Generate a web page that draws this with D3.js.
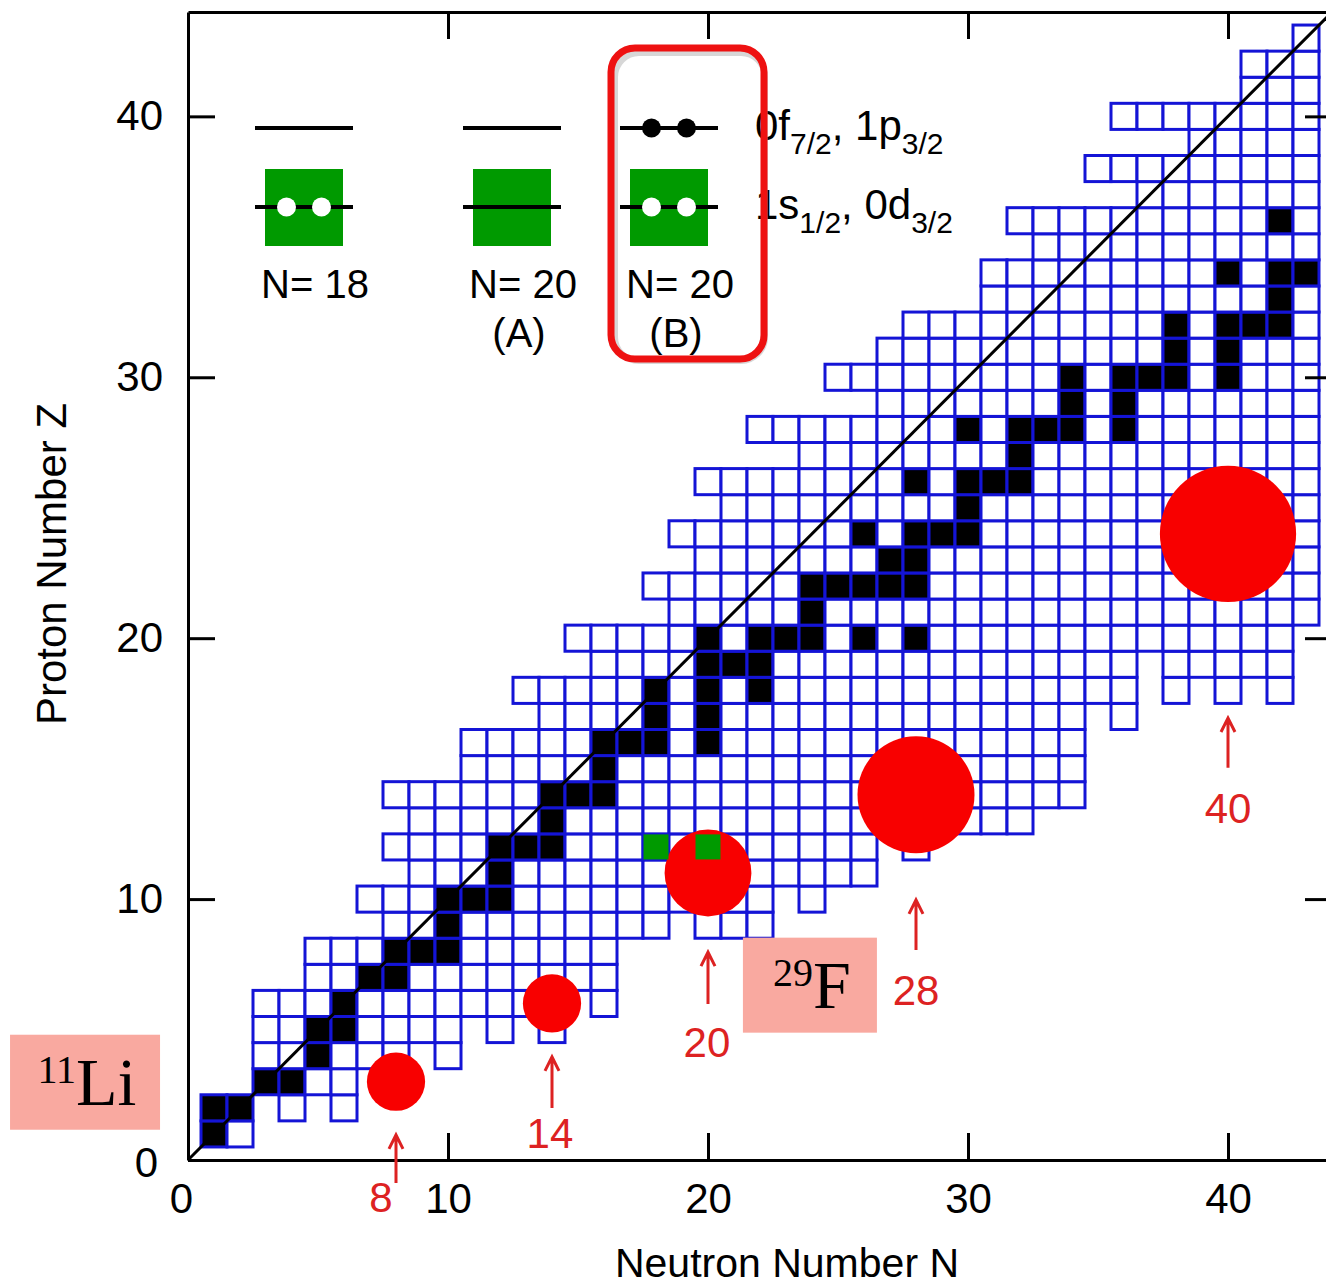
<!DOCTYPE html>
<html>
<head>
<meta charset="utf-8">
<script src="https://cdn.jsdelivr.net/npm/d3@7/dist/d3.min.js"></script>
<style>
html,body{margin:0;padding:0;background:#fff;}
svg{display:block;font-family:"Liberation Sans",Arial,Helvetica,sans-serif;}
</style>
</head>
<body>
<svg id="chart" width="1326" height="1287"></svg>
<script>
// ---------------- data ----------------
// known nuclides: [Z, [[Nfrom, Nto], ...]]
const nuclideRows = [
  [1, [[1,2]]],
  [2, [[1,2],[4,4],[6,6]]],
  [3, [[3,6],[8,8]]],
  [4, [[3,8],[10,10]]],
  [5, [[3,10],[12,12],[14,14]]],
  [6, [[3,14],[16,16]]],
  [7, [[5,16]]],
  [8, [[5,16]]],
  [9, [[8,18],[20,22]]],
  [10, [[7,22],[24,24]]],
  [11, [[9,26]]],
  [12, [[8,26],[28,28]]],
  [13, [[9,32]]],
  [14, [[8,34]]],
  [15, [[11,34]]],
  [16, [[11,34]]],
  [17, [[14,34],[36,36]]],
  [18, [[13,36],[38,38],[40,40],[42,42]]],
  [19, [[16,36],[38,42]]],
  [20, [[15,42]]],
  [21, [[19,43]]],
  [22, [[18,43]]],
  [23, [[20,43]]],
  [24, [[19,43]]],
  [25, [[21,43]]],
  [26, [[20,43]]],
  [27, [[24,43]]],
  [28, [[22,43]]],
  [29, [[27,43]]],
  [30, [[25,43]]],
  [31, [[27,43]]],
  [32, [[28,43]]],
  [33, [[31,43]]],
  [34, [[31,43]]],
  [35, [[33,43]]],
  [36, [[32,43]]],
  [37, [[37,43]]],
  [38, [[35,43]]],
  [39, [[39,43]]],
  [40, [[36,43]]],
  [41, [[41,43]]],
  [42, [[41,43]]],
  [43, [[43,43]]]
];
// stable nuclides (black): [Z, [N, ...]]
const stableRows = [
  [1,[1]],[2,[1,2]],[3,[3,4]],[4,[5]],[5,[5,6]],[6,[6]],[7,[7,8]],[8,[8,9,10]],
  [9,[10]],[10,[10,11,12]],[11,[12]],[12,[12,13,14]],[13,[14]],[14,[14,15,16]],
  [15,[16]],[16,[16,17,18,20]],[17,[18,20]],[18,[18,20,22]],[19,[20,21,22]],
  [20,[20,22,23,24,26,28]],[21,[24]],[22,[24,25,26,27,28]],[23,[27,28]],
  [24,[26,28,29,30]],[25,[30]],[26,[28,30,31,32]],[27,[32]],[28,[30,32,33,34,36]],
  [29,[34,36]],[30,[34,36,37,38,40]],[31,[38,40]],[32,[38,40,41,42]],[33,[42]],
  [34,[40,42,43]],[36,[42]]
];
// highlighted (green) nuclides [N, Z]
const greenCells = [[18,12],[20,12]];
// magic numbers with red circles
const magicNumbers   = [8, 14, 20, 28, 40];
const magicCircleZ   = [3, 6, 11, 14, 24];
const magicCircleR   = [1.12, 1.12, 1.67, 2.25, 2.62];   // radius in cell units
const arrowTipZ      = [0.96, 3.95, 7.97, 9.97, 16.94];
const arrowBaseZ     = [-0.88, 1.99, 5.98, 8.05, 15.03];
const magicLabelNZ   = [[7.42,-1.42],[13.92,1.03],[19.96,4.52],[28.0,6.52],[40.0,13.5]];
// axes
const tickValues = [0, 10, 20, 30, 40];
const tickLabels = ["0", "10", "20", "30", "40"];
const xTitle = "Neutron Number N";
const yTitle = "Proton Number Z";
// nucleus tags
const tagMass = ["11", "29"];
const tagSymbol = ["Li", "F"];
const tagNZ = [[-3.96, 3.0], [23.92, 6.72]];
// legend
const legendLabels = ["N= 18", "N= 20", "N= 20"];
const legendSubLabels = ["", "(A)", "(B)"];
const legendUpperDots = [false, false, true];
const legendLowerDots = [true, false, true];
const orbitUpper = [["0f",0],["7/2",1],[", 1p",0],["3/2",1]];
const orbitLower = [["1s",0],["1/2",1],[", 0d",0],["3/2",1]];

// ---------------- drawing ----------------
const svg = d3.select("#chart");
const x = d3.scaleLinear().domain([0, 44]).range([188, 1332]);
const y = d3.scaleLinear().domain([0, 44]).range([1160, 12]);
const cw = x(1) - x(0), ch = y(0) - y(1);
const BLUE = "#1414d6", RED = "#f80000", LRED = "#dd2222", GREEN = "#009a00";

const cells = [];
nuclideRows.forEach(([z, segs]) => segs.forEach(([a, b]) => { for (let n = a; n <= b; n++) cells.push({n, z}); }));
const stableSet = new Set();
stableRows.forEach(([z, ns]) => ns.forEach(n => stableSet.add(n + "," + z)));

const gCells = svg.append("g");
gCells.selectAll("rect").data(cells).join("rect")
  .attr("x", d => x(d.n - 0.5)).attr("y", d => y(d.z + 0.5))
  .attr("width", cw).attr("height", ch)
  .attr("fill", d => stableSet.has(d.n + "," + d.z) ? "#000" : "#fff")
  .attr("stroke", BLUE).attr("stroke-width", 3);

// diagonal N = Z
svg.append("line")
  .attr("x1", x(0)).attr("y1", y(0)).attr("x2", x(44)).attr("y2", y(44))
  .attr("stroke", "#000").attr("stroke-width", 3);

// axes
function styleAxis(g) {
  g.selectAll("path,line").attr("stroke", "#000").attr("stroke-width", 3);
  g.attr("font-size", 42).attr("font-family", '"Liberation Sans",Arial,sans-serif');
  g.selectAll("text").attr("fill", "#000");
}
const fmt = (d, i) => tickLabels[i];
svg.append("g").attr("transform", `translate(0,${y(0)})`)
  .call(d3.axisBottom(x).tickValues(tickValues).tickFormat(fmt).tickSizeInner(-27).tickSizeOuter(0).tickPadding(23))
  .call(styleAxis)
  .call(g => g.selectAll(".tick").filter(d => d === 0).select("text").attr("dx", -7));
svg.append("g").attr("transform", `translate(${x(0)},0)`)
  .call(d3.axisLeft(y).tickValues(tickValues).tickFormat(fmt).tickSizeInner(-27).tickSizeOuter(0).tickPadding(25))
  .call(styleAxis)
  .call(g => g.selectAll(".tick").filter(d => d === 0).select("text").attr("dx", -5).attr("dy", "0.4em"));
svg.append("g").attr("transform", `translate(0,${y(44)})`)
  .call(d3.axisTop(x).tickValues(tickValues.slice(1)).tickFormat(() => "").tickSizeInner(-27).tickSizeOuter(0))
  .call(styleAxis);
svg.append("g").attr("transform", `translate(${x(44)},0)`)
  .call(d3.axisRight(y).tickValues(tickValues.slice(1)).tickFormat(() => "").tickSizeInner(-27).tickSizeOuter(0))
  .call(styleAxis);

// axis titles
svg.append("text").attr("x", 787).attr("y", 1277).attr("text-anchor", "middle")
  .attr("font-size", 41).text(xTitle);
svg.append("text").attr("transform", "translate(66,564) rotate(-90)").attr("text-anchor", "middle")
  .attr("font-size", 42).text(yTitle);

// red circles
const magic = magicNumbers.map((m, i) => ({m, z: magicCircleZ[i], r: magicCircleR[i], tip: arrowTipZ[i], base: arrowBaseZ[i], ln: magicLabelNZ[i]}));
svg.append("g").selectAll("circle").data(magic).join("circle")
  .attr("cx", d => x(d.m)).attr("cy", d => y(d.z)).attr("r", d => d.r * cw)
  .attr("fill", RED);

// green squares
svg.append("g").selectAll("rect").data(greenCells).join("rect")
  .attr("x", d => x(d[0] - 0.48)).attr("y", d => y(d[1] + 0.48))
  .attr("width", cw * 0.96).attr("height", ch * 0.96).attr("fill", GREEN);

// arrows + labels
const gA = svg.append("g");
gA.selectAll("path").data(magic).join("path")
  .attr("d", d => {
    const ax = x(d.m), yt = y(d.tip), yb = y(d.base);
    return `M${ax},${yb}L${ax},${yt}M${ax - 7},${yt + 14}L${ax},${yt}L${ax + 7},${yt + 14}`;
  })
  .attr("fill", "none").attr("stroke", LRED).attr("stroke-width", 3);
gA.selectAll("text").data(magic).join("text")
  .attr("x", d => x(d.ln[0])).attr("y", d => y(d.ln[1]) + 15)
  .attr("text-anchor", "middle").attr("font-size", 42).attr("fill", LRED)
  .text(d => d.m);

// nucleus tags
const tags = tagMass.map((m, i) => ({m, s: tagSymbol[i], n: tagNZ[i][0], z: tagNZ[i][1]}));
const gT = svg.append("g");
gT.selectAll("rect").data(tags).join("rect")
  .attr("x", (d, i) => x(d.n) - (i ? 67 : 75)).attr("y", d => y(d.z) - 47)
  .attr("width", (d, i) => i ? 134 : 150).attr("height", 95).attr("fill", "#f9a9a0");
gT.selectAll("text").data(tags).join("text")
  .attr("x", d => x(d.n) + 2).attr("y", d => y(d.z) + 23)
  .attr("text-anchor", "middle").attr("font-family", '"Liberation Serif","Times New Roman",serif')
  .attr("fill", "#000")
  .each(function (d) {
    const t = d3.select(this);
    t.append("tspan").attr("font-size", 40).attr("dy", -22).text(d.m);
    t.append("tspan").attr("font-size", 68).attr("dy", 22).text(d.s);
  });

// legend
const legendCX = [304, 512, 669];
const gL = svg.append("g");
legendLabels.forEach((lab, i) => {
  const cx = legendCX[i];
  gL.append("rect").attr("x", cx - 39).attr("y", 169).attr("width", 78).attr("height", 77).attr("fill", GREEN);
  gL.append("line").attr("x1", cx - 49).attr("x2", cx + 49).attr("y1", 128).attr("y2", 128).attr("stroke", "#000").attr("stroke-width", 4);
  gL.append("line").attr("x1", cx - 49).attr("x2", cx + 49).attr("y1", 207).attr("y2", 207).attr("stroke", "#000").attr("stroke-width", 4);
  if (legendUpperDots[i]) [-17.5, 17.5].forEach(o => gL.append("circle").attr("cx", cx + o).attr("cy", 128).attr("r", 9.5).attr("fill", "#000"));
  if (legendLowerDots[i]) [-17.5, 17.5].forEach(o => gL.append("circle").attr("cx", cx + o).attr("cy", 207).attr("r", 9.5).attr("fill", "#fff"));
  gL.append("text").attr("x", cx + 11).attr("y", 298).attr("text-anchor", "middle").attr("font-size", 40).text(lab);
  if (legendSubLabels[i]) gL.append("text").attr("x", cx + 7).attr("y", 347).attr("text-anchor", "middle").attr("font-size", 40).text(legendSubLabels[i]);
});
function orbitText(parts, yb) {
  const t = gL.append("text").attr("x", 755).attr("y", yb).attr("font-size", 42);
  let prevSub = 0;
  parts.forEach(([s, sub]) => {
    const dy = sub ? (prevSub ? 0 : 14) : (prevSub ? -14 : 0);
    t.append("tspan").attr("dy", dy).attr("font-size", sub ? 30 : 42).text(s);
    prevSub = sub;
  });
}
orbitText(orbitUpper, 140);
orbitText(orbitLower, 219);

// red highlight box
gL.append("rect").attr("x", 613).attr("y", 50).attr("width", 150).attr("height", 308)
  .attr("rx", 24).attr("fill", "none").attr("stroke", "#b0b0b0").attr("stroke-width", 6)
  .attr("transform", "translate(2,3)").attr("opacity", 0.5);
gL.append("rect").attr("x", 611).attr("y", 48).attr("width", 153).attr("height", 311)
  .attr("rx", 24).attr("fill", "none").attr("stroke", "#ee1111").attr("stroke-width", 7);
</script>
</body>
</html>
